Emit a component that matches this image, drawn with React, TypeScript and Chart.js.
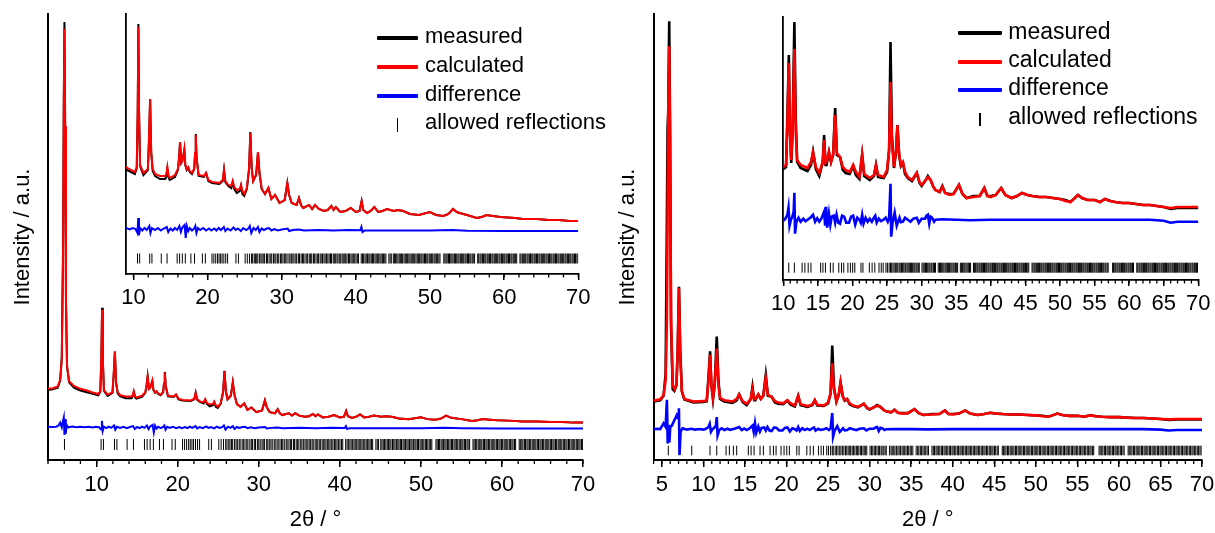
import React, { useEffect, useRef } from 'react';
import { Chart, registerables } from 'chart.js';

Chart.register(...registerables);

const FONT = "'Liberation Sans', Arial, Helvetica, sans-serif";

// ---------------- LEFT SAMPLE ----------------
const leftTheta = [4.0, 4.6, 5.2, 5.5, 5.7, 5.85, 5.95, 6.03, 6.12, 6.22, 6.35, 6.6, 7.2, 8.0, 8.8, 9.4, 10.2, 10.45, 10.58, 10.67, 10.76, 10.9, 11.35, 11.95, 12.1, 12.25, 12.4, 12.6, 12.92, 13.6, 14.3, 14.45, 14.58, 14.75, 14.9, 15.6, 16.0, 16.15, 16.29, 16.45, 16.6, 16.75, 16.87, 17.0, 17.2, 17.4, 17.6, 17.9, 18.2, 18.32, 18.41, 18.52, 18.8, 19.5, 19.8, 20.1, 20.6, 21.6, 22.05, 22.22, 22.4, 22.8, 23.2, 23.39, 23.6, 23.95, 24.35, 24.51, 24.7, 24.95, 25.3, 25.6, 25.77, 25.95, 26.15, 26.55, 26.8, 27.0, 27.3, 27.75, 28.2, 28.6, 29.1, 29.7, 30.4, 30.76, 31.0, 31.35, 32.0, 32.33, 32.6, 32.9, 33.7, 34.1, 34.5, 35.0, 35.7, 36.2, 36.7, 37.0, 37.3, 37.9, 38.6, 39.3, 40.0, 40.5, 40.78, 41.0, 41.5, 42.0, 42.5, 43.0, 43.6, 44.2, 45.1, 45.7, 46.4, 47.3, 48.5, 50.0, 50.8, 51.8, 52.5, 53.1, 53.6, 54.0, 55.0, 56.3, 57.0, 57.6, 58.5, 59.5, 61.5, 62.5, 64.4, 66.0, 67.4, 68.8, 70.0];
const leftCalc = [110, 111, 114, 125, 160, 330, 600, 727, 560, 260, 150, 123, 115, 110, 107, 104, 101, 106, 165, 246, 160, 108, 100, 104, 135, 174, 120, 104, 99, 97, 97, 99, 106, 97, 95, 98, 104, 115, 131, 110, 112, 118, 124, 108, 104, 106, 102, 100, 104, 120, 138, 115, 98, 97, 100, 93, 91, 90, 93, 103, 92, 88, 87, 92, 86, 83, 84, 88, 82, 79, 85, 105, 140, 105, 92, 98, 121, 100, 84, 79, 85, 74, 78, 70, 73, 90, 78, 70, 68, 75, 68, 65, 68, 64, 68, 64, 62, 63, 67, 63, 66, 61, 62, 65, 61, 62, 72, 63, 60, 62, 66, 61, 62, 64, 62, 63, 62, 59, 58, 61, 58, 57, 59, 64, 61, 60, 58, 55, 56, 58, 57, 56, 55, 54, 54, 53, 53, 52, 52];
const leftMeas = [108, 109, 112, 124, 165, 345, 610, 739, 560, 255, 148, 121, 112, 107, 104, 102, 99, 105, 160, 249, 162, 107, 98, 103, 132, 174, 121, 102, 97, 94, 94, 97, 104, 95, 93, 96, 103, 114, 131, 110, 112, 118, 123, 108, 103, 105, 101, 99, 104, 120, 139, 115, 97, 96, 100, 92, 90, 89, 92, 103, 91, 87, 85, 91, 84, 80, 82, 87, 79, 77, 84, 104, 141, 105, 92, 98, 121, 100, 84, 79, 85, 74, 78, 70, 73, 90, 78, 70, 68, 75, 68, 65, 68, 64, 68, 64, 62, 63, 67, 63, 66, 61, 62, 65, 61, 62, 72, 63, 60, 62, 66, 61, 62, 64, 62, 63, 62, 59, 58, 61, 58, 57, 59, 64, 61, 60, 58, 55, 56, 58, 57, 56, 55, 54, 54, 53, 53, 52, 52];
const leftDiffTheta = [4.0, 4.5, 5.0, 5.3, 5.5, 5.7, 5.85, 5.95, 6.03, 6.1, 6.2, 6.3, 6.5, 7.0, 7.5, 8.0, 8.5, 9.0, 9.5, 9.9, 10.3, 10.55, 10.65, 10.75, 10.9, 11.2, 11.5, 11.8, 12.15, 12.3, 12.5, 12.9, 13.3, 13.7, 14.1, 14.5, 14.7, 15.0, 15.3, 15.6, 15.9, 16.2, 16.4, 16.6, 16.9, 17.05, 17.2, 17.4, 17.6, 17.9, 18.2, 18.35, 18.5, 18.7, 19.0, 19.4, 19.8, 20.2, 20.5, 20.9, 21.2, 21.5, 21.8, 22.2, 22.4, 22.7, 23.1, 23.5, 23.8, 24.1, 24.5, 24.8, 25.2, 25.5, 25.7, 25.9, 26.2, 26.5, 26.8, 27.0, 27.3, 27.6, 28.0, 28.3, 28.6, 29.0, 29.5, 30.0, 30.8, 31.0, 31.5, 32.3, 33.0, 35.0, 37.0, 39.0, 40.6, 40.75, 40.9, 41.2, 45.0, 50.0, 53.0, 55.0, 60.0, 70.0];
const leftDiff = [45, 44.5, 45, 47, 52, 44, 55, 61, 31, 58, 33, 48, 44, 45.5, 44, 45, 44, 45, 43.5, 45, 44, 40, 55, 38, 45, 42.5, 45, 43, 47, 40, 45, 43, 45, 42.5, 44.5, 46, 41, 44.5, 42.5, 45, 43, 47, 41, 45.5, 48, 35, 47, 42, 45, 42.5, 44.5, 47, 40, 45, 43, 45, 42.5, 44.5, 42.5, 44.5, 42.5, 45, 43, 46, 42, 44.5, 42.5, 45.5, 43, 44.5, 42, 45, 43, 44.5, 47, 40, 45, 43, 46, 41, 44.5, 43, 44.5, 45, 42.5, 44, 42.5, 43.5, 44.5, 42, 43, 43.5, 42.5, 43, 42.5, 43, 42.8, 46, 41, 42.5, 42.5, 42.5, 43, 42.3, 42, 42];
const leftReflections = [6.03, 10.55, 10.84, 12.2, 12.5, 13.76, 14.54, 15.9, 16.23, 16.6, 17.0, 17.75, 18.24, 19.3, 19.7, 20.6, 20.85, 21.1, 21.35, 21.55, 21.76, 21.96, 22.2, 22.45, 22.7, 23.83, 24.16, 25.07, 25.36, 25.65,
  25.92, 26.08, 26.3, 26.45, 26.63, 26.78, 27.02, 27.2, 27.36, 27.58, 27.7, 27.95, 28.1, 28.3, 28.52, 28.66, 28.9, 29.08, 29.22, 29.45, 29.6, 29.83, 30.0, 30.18, 30.4, 30.55, 30.72, 30.98, 31.12, 31.3, 31.5, 31.66, 31.9, 32.02, 32.25, 32.4, 32.62, 32.8, 32.96, 33.15, 33.38, 33.5, 33.72, 33.9, 34.05, 34.28, 34.4, 34.62, 34.8, 34.95, 35.18, 35.32, 35.5, 35.7, 35.86, 36.05, 36.22, 36.4, 36.58, 36.72, 36.95, 37.1, 37.28, 37.46, 37.6, 37.82, 37.96, 38.15, 38.3, 38.5, 38.64, 38.8, 39.0, 39.15, 39.34, 39.5, 39.66, 39.85, 40.02, 40.2, 40.36, 40.72, 40.9, 41.05, 41.24, 41.4, 41.58, 41.75, 41.9, 42.08, 42.25, 42.4, 42.58, 42.74, 42.9, 43.08, 43.25, 43.4, 43.58, 43.74, 43.9, 44.05, 44.45, 44.62, 44.78, 45.05, 45.2, 45.36, 45.52, 45.68, 45.85, 46.0, 46.17, 46.31, 46.5, 46.66, 46.81, 46.98, 47.15, 47.3, 47.47, 47.61, 47.8, 47.94, 48.11, 48.28, 48.43, 48.6, 48.77, 48.91, 49.08, 49.26, 49.4, 49.57, 49.71, 49.9, 50.04, 50.22, 50.37, 50.55, 50.69, 50.86, 51.03, 51.2, 51.35, 51.86, 52.01, 52.17, 52.31, 52.49, 52.63, 52.8, 52.96, 53.11, 53.29, 53.43, 53.6, 53.77, 53.91, 54.09, 54.23, 54.41, 54.55, 54.73, 54.87, 55.05, 55.19, 55.37, 55.51, 55.69, 55.83, 56.01, 56.43, 56.57, 56.75, 56.89, 57.07, 57.21, 57.39, 57.53, 57.71, 57.85, 58.03, 58.17, 58.35, 58.49, 58.67, 58.81, 58.99, 59.13, 59.31, 59.45, 59.63, 59.77, 59.95, 60.09, 60.27, 60.41, 60.59, 60.73, 60.91, 61.05, 61.23, 61.37, 61.55, 61.69, 62.13, 62.27, 62.45, 62.59, 62.77, 62.91, 63.09, 63.23, 63.41, 63.55, 63.73, 63.87, 64.05, 64.19, 64.37, 64.51, 64.69, 64.83, 65.01, 65.15, 65.33, 65.47, 65.65, 65.79, 65.97, 66.11, 66.29, 66.43, 66.61, 66.75, 66.93, 67.07, 67.25, 67.39, 67.57, 67.71, 67.89, 68.03, 68.21, 68.35, 68.53, 68.67, 68.85, 68.99, 69.17, 69.31, 69.49, 69.63, 69.81, 69.95];
const leftReflLevel = 14.5;

// ---------------- RIGHT SAMPLE ----------------
const rightTheta = [4.0, 4.8, 5.2, 5.45, 5.6, 5.68, 5.76, 5.88, 5.98, 6.1, 6.3, 6.5, 6.75, 6.9, 7.05, 7.2, 7.4, 7.7, 8.8, 10.0, 10.4, 10.6, 10.8, 10.95, 11.15, 11.35, 11.6, 11.8, 12.0, 12.5, 13.5, 14.0, 14.3, 14.7, 15.2, 15.7, 15.9, 16.1, 16.25, 16.6, 16.9, 17.2, 17.5, 17.75, 18.2, 18.6, 19.0, 19.6, 20.1, 20.5, 21.0, 21.4, 21.7, 22.5, 23.1, 23.4, 23.7, 24.5, 25.0, 25.3, 25.5, 25.7, 26.0, 26.3, 26.5, 26.75, 27.0, 27.3, 27.6, 28.0, 28.6, 29.3, 29.7, 30.0, 30.6, 30.9, 31.3, 31.7, 32.0, 32.6, 33.0, 33.4, 34.0, 34.6, 35.4, 35.9, 36.5, 37.5, 38.4, 39.06, 39.5, 40.0, 40.7, 41.5, 42.1, 43.0, 43.8, 44.5, 45.3, 46.0, 47.0, 48.0, 49.0, 50.0, 50.8, 51.5, 52.0, 52.6, 53.2, 54.0, 55.0, 55.8, 56.5, 57.3, 58.0, 59.0, 60.0, 61.0, 62.0, 63.0, 64.0, 65.0, 66.0, 67.0, 68.0, 69.0, 70.0];
const rightCalc = [114, 117, 127, 160, 300, 520, 760, 911, 700, 300, 150, 140, 150, 230, 368, 220, 135, 118, 112, 113, 115, 160, 217, 150, 120, 150, 231, 150, 120, 115, 112, 118, 128, 113, 107, 118, 140, 117, 118, 128, 118, 125, 165, 127, 123, 113, 110, 108, 115, 108, 103, 125, 106, 102, 105, 115, 105, 103, 110, 130, 198, 140, 113, 130, 155, 125, 115, 118, 108, 103, 100, 107, 98, 95, 100, 103, 100, 93, 90, 88, 93, 87, 85, 86, 95, 86, 82, 83, 84, 92, 84, 83, 85, 92, 85, 82, 84, 87, 85, 84, 83, 83, 82, 81, 79, 78, 81, 85, 82, 80, 80, 78, 81, 79, 78, 77, 77, 76, 75, 75, 74, 73, 72, 73, 73, 73, 73];
const rightMeas = [112, 115, 125, 175, 520, 725, 760, 967, 720, 280, 140, 136, 148, 225, 370, 230, 135, 117, 110, 111, 113, 165, 225, 150, 117, 150, 258, 160, 118, 112, 109, 115, 128, 111, 104, 118, 145, 115, 115, 128, 118, 125, 172, 125, 123, 110, 107, 106, 114, 105, 101, 125, 104, 100, 104, 115, 103, 102, 108, 130, 238, 145, 112, 128, 155, 125, 114, 117, 106, 102, 99, 107, 97, 94, 100, 104, 100, 93, 90, 88, 94, 87, 86, 86, 95, 86, 82, 84, 84, 92, 84, 84, 85, 92, 85, 82, 84, 87, 85, 84, 83, 83, 82, 81, 80, 78, 81, 85, 82, 80, 80, 78, 81, 79, 78, 77, 77, 76, 75, 75, 74, 73, 71, 72, 72, 72, 72];
const rightDiffTheta = [4.0, 4.5, 4.8, 5.2, 5.45, 5.6, 5.7, 5.8, 5.9, 6.0, 6.2, 6.5, 6.8, 6.95, 7.05, 7.12, 7.25, 7.5, 8.0, 8.5, 9.0, 9.5, 10.0, 10.3, 10.6, 10.75, 10.9, 11.1, 11.3, 11.5, 11.6, 11.7, 11.9, 12.2, 12.5, 12.9, 13.2, 13.5, 13.9, 14.3, 14.6, 14.9, 15.2, 15.5, 15.9, 16.05, 16.2, 16.35, 16.6, 16.8, 17.0, 17.3, 17.5, 17.7, 17.95, 18.2, 18.5, 18.8, 19.1, 19.5, 19.8, 20.1, 20.4, 20.7, 21.0, 21.2, 21.4, 21.6, 21.9, 22.2, 22.5, 22.8, 23.1, 23.3, 23.5, 23.8, 24.1, 24.5, 24.8, 25.1, 25.3, 25.5, 25.6, 25.8, 26.1, 26.4, 26.8, 27.0, 27.3, 27.6, 28.0, 28.4, 28.8, 29.3, 29.6, 30.0, 30.5, 30.7, 30.9, 31.1, 31.3, 31.5, 31.8, 32.0, 33.0, 35.0, 37.0, 40.0, 45.0, 50.0, 55.0, 60.0, 63.0, 65.0, 66.0, 67.0, 70.0];
const rightDiff = [50, 51, 50, 63, 55, 116, 18, 60, 20, 55, 58, 70, 82, 75, 97, -8, 45, 52, 49, 51, 49, 50.5, 49, 51, 55, 62, 44, 50, 53, 58, 77, 36, 48, 52, 48, 51, 48.5, 50, 52, 55, 48, 51.5, 48, 51, 58, 44, 63, 42, 56, 45, 53, 54, 47, 55, 47, 46, 54, 53, 47, 47, 53, 54, 45, 52, 50, 47, 55, 46, 52, 48, 51, 48, 52, 54, 47, 51, 48.5, 50, 52, 48, 52, 86, 33, 47, 57, 44, 52, 47.5, 48, 52, 50, 48, 51, 52, 47, 51, 51, 54, 55, 46, 53, 52, 48, 50, 50.5, 50, 49.5, 50, 50, 50, 50, 50, 50, 49, 47, 48, 48];
const rightReflections = [5.77, 7.1, 8.59, 10.79, 11.6, 12.72, 13.12, 13.6, 14.0, 15.4, 15.73, 16.09, 16.81, 17.21, 18.02, 18.42, 18.74, 19.34, 19.7, 20.03, 20.34, 21.23, 21.51, 22.44, 22.84, 23.23, 23.84, 24.16, 24.44,
  24.84, 25.05, 25.3, 25.5, 25.62, 25.85, 26.02, 26.2, 26.4, 26.55, 26.75, 26.9, 27.1, 27.25, 27.42, 27.6, 27.72, 27.9, 28.05, 28.22, 28.4, 28.55, 28.7, 28.88, 29.02, 29.2, 29.35, 29.52, 29.66, 30.05, 30.22, 30.38, 30.55, 30.7, 30.88, 31.05, 31.2, 31.38, 31.5, 31.7, 31.86, 32.0, 32.4, 32.58, 32.72, 32.9, 33.05, 33.22, 33.4, 33.55, 33.72, 33.9, 34.05, 34.22, 34.38, 34.55, 34.7, 34.88, 35.02, 35.2, 35.6, 35.78, 35.92, 36.1, 36.25, 36.42, 36.58, 36.75, 36.92, 37.08, 37.5, 37.66, 37.81, 37.99, 38.13, 38.31, 38.45, 38.63, 38.77, 38.95, 39.09, 39.27, 39.41, 39.59, 39.73, 39.91, 40.05, 40.23, 40.37, 40.55, 40.69, 40.87, 41.01, 41.19, 41.33, 41.51, 41.65, 41.83, 41.97, 42.15, 42.29, 42.47, 42.61, 42.79, 42.93, 43.11, 43.25, 43.43, 43.57, 43.75, 43.89, 44.07, 44.21, 44.39, 44.53, 44.71, 44.85, 45.03, 45.17, 45.35, 45.49, 45.96, 46.1, 46.27, 46.41, 46.59, 46.73, 46.91, 47.05, 47.23, 47.37, 47.55, 47.69, 47.87, 48.01, 48.19, 48.33, 48.51, 48.65, 48.83, 48.97, 49.15, 49.29, 49.47, 49.61, 49.79, 49.93, 50.11, 50.25, 50.43, 50.57, 50.75, 50.89, 51.07, 51.21, 51.39, 51.53, 51.71, 51.85, 52.03, 52.17, 52.35, 52.49, 52.67, 52.81, 52.99, 53.13, 53.31, 53.45, 53.63, 53.77, 53.95, 54.09, 54.27, 54.41, 54.59, 54.73, 54.91, 55.05, 55.23, 55.37, 55.55, 55.69, 55.87, 56.01, 56.19, 56.33, 56.51, 56.65, 56.83, 56.97, 57.61, 57.75, 57.93, 58.07, 58.25, 58.39, 58.57, 58.71, 58.89, 59.03, 59.21, 59.35, 59.53, 59.67, 59.85, 59.99, 60.17, 60.31, 60.49, 60.63, 61.11, 61.25, 61.43, 61.57, 61.75, 61.89, 62.07, 62.21, 62.39, 62.53, 62.71, 62.85, 63.03, 63.17, 63.35, 63.49, 63.67, 63.81, 63.99, 64.13, 64.31, 64.45, 64.63, 64.77, 64.95, 65.09, 65.27, 65.41, 65.59, 65.73, 65.91, 66.05, 66.23, 66.37, 66.55, 66.69, 66.87, 67.01, 67.19, 67.33, 67.51, 67.65, 67.83, 67.97, 68.15, 68.29, 68.47, 68.61, 68.79, 68.93, 69.11, 69.25, 69.43, 69.57, 69.75, 69.89];
const rightReflLevel = 2;

// ---------------- AXES ----------------
const leftMainTicks = [10, 20, 30, 40, 50, 60, 70];
const leftInsetTicks = [10, 20, 30, 40, 50, 60, 70];
const rightMainTicks = [5, 10, 15, 20, 25, 30, 35, 40, 45, 50, 55, 60, 65, 70];
const rightInsetTicks = [10, 15, 20, 25, 30, 35, 40, 45, 50, 55, 60, 65, 70];
const legendLabels = ['measured', 'calculated', 'difference', 'allowed reflections'];
const xTitle = '2θ / °';
const yTitle = 'Intensity / a.u.';

const pts = (xs: number[], ys: number[]) => xs.map((x, i) => ({ x, y: ys[i] }));

type Cfg = {
  xMin: number; xMax: number; majors: number[]; minorStep: number; majorLen: number; minorLen: number;
  yMin: number; yMax: number; y2?: [number, number];
  showTitles: boolean; yWidth: number; xHeight: number; padTop: number; padRight: number;
  theta: number[]; calc: number[]; meas: number[]; diffTheta: number[]; diff: number[];
  refl: number[]; reflLevel: number; reflRadius: number; lineWidth: number; axisWidth: number;
};

function minorTickPlugin(step: number, len: number) {
  return {
    id: 'minorTicks',
    afterDraw(chart: any) {
      const s = chart.scales.x;
      const ctx = chart.ctx;
      ctx.save();
      ctx.strokeStyle = '#000';
      ctx.lineWidth = 1.3;
      const n = Math.round((s.max - s.min) / step);
      const start = Math.ceil(s.min / step - 1e-9) * step;
      for (let k = 0; k <= n + 1; k++) {
        const v = start + k * step;
        if (v > s.max + 1e-9) break;
        const px = s.getPixelForValue(v);
        ctx.beginPath();
        ctx.moveTo(px, s.top);
        ctx.lineTo(px, s.top + len);
        ctx.stroke();
      }
      ctx.restore();
    },
  };
}

function buildConfig(c: Cfg): any {
  const diffAxis = c.y2 ? 'y2' : 'y';
  const scales: any = {
    x: {
      type: 'linear', min: c.xMin, max: c.xMax,
      afterBuildTicks: (s: any) => { s.ticks = c.majors.map((v) => ({ value: v })); },
      afterFit: (s: any) => { s.height = c.xHeight; s.paddingLeft = 0; s.paddingRight = 0; },
      ticks: { autoSkip: false, maxRotation: 0, minRotation: 0, padding: 5, color: '#000', font: { family: FONT, size: 22 } },
      grid: { drawOnChartArea: false, drawTicks: true, tickLength: c.majorLen, tickWidth: 1.5, tickColor: '#000', color: '#000', lineWidth: 1.5 },
      border: { display: true, color: '#000', width: c.axisWidth },
      title: c.showTitles
        ? { display: true, text: xTitle, color: '#000', font: { family: FONT, size: 22 }, padding: { top: 0, bottom: 0 } }
        : { display: false },
    },
    y: {
      type: 'linear', min: c.yMin, max: c.yMax,
      afterFit: (s: any) => { s.width = c.yWidth; s.paddingTop = 0; s.paddingBottom = 0; },
      ticks: { display: false },
      grid: { display: false },
      border: { display: true, color: '#000', width: c.axisWidth },
      title: c.showTitles
        ? { display: true, text: yTitle, color: '#000', font: { family: FONT, size: 22 }, padding: { top: 10, bottom: 0 } }
        : { display: false },
    },
  };
  if (c.y2) {
    scales.y2 = { type: 'linear', display: false, min: c.y2[0], max: c.y2[1] };
  }
  return {
    type: 'line',
    data: {
      datasets: [
        { label: legendLabels[1], data: pts(c.theta, c.calc), borderColor: '#ff0000', borderWidth: c.lineWidth, pointRadius: 0, tension: 0, order: 0, yAxisID: 'y' },
        { label: legendLabels[0], data: pts(c.theta, c.meas), borderColor: '#000000', borderWidth: c.lineWidth, pointRadius: 0, tension: 0, order: 1, yAxisID: 'y' },
        { label: legendLabels[2], data: pts(c.diffTheta, c.diff), borderColor: '#0000ff', borderWidth: c.lineWidth, pointRadius: 0, tension: 0, order: 2, yAxisID: diffAxis },
        {
          label: legendLabels[3], data: c.refl.map((x) => ({ x, y: c.reflLevel })), showLine: false,
          pointStyle: 'line', pointRotation: 90, pointRadius: c.reflRadius, pointHoverRadius: c.reflRadius,
          pointBorderWidth: 1, pointBorderColor: '#000', borderColor: '#000', backgroundColor: '#000', order: 3, yAxisID: diffAxis,
        },
      ],
    },
    options: {
      animation: false, responsive: false, events: [],
      layout: { padding: { left: 0, top: c.padTop, right: c.padRight, bottom: 0 } },
      plugins: { legend: { display: false }, tooltip: { enabled: false }, title: { display: false } },
      scales,
    },
    plugins: [minorTickPlugin(c.minorStep, c.minorLen)],
  };
}

function ChartBox({ left, top, width, height, cfg }: { left: number; top: number; width: number; height: number; cfg: Cfg }) {
  const ref = useRef<HTMLCanvasElement | null>(null);
  useEffect(() => {
    if (!ref.current) return;
    const chart = new Chart(ref.current, buildConfig(cfg));
    return () => chart.destroy();
  }, []);
  return (
    <canvas ref={ref} width={width} height={height}
      style={{ position: 'absolute', left, top, width, height }} />
  );
}

function Legend({ lineX, lineW, textX, rows, fontSize, tickTop, tickH }: { lineX: number; lineW: number; textX: number; rows: number[]; fontSize: number; tickTop: number; tickH: number }) {
  const colors = ['#000000', '#ff0000', '#0000ff'];
  return (
    <>
      {colors.map((col, i) => (
        <div key={'l' + i} style={{ position: 'absolute', left: lineX, top: rows[i] - 2, width: lineW, height: 4, background: col, borderRadius: 1 }} />
      ))}
      <div style={{ position: 'absolute', left: lineX + lineW / 2 - 0.75, top: tickTop, width: 1.5, height: tickH, background: '#000' }} />
      {legendLabels.map((t, i) => (
        <div key={'t' + i} style={{ position: 'absolute', left: textX, top: rows[i] - fontSize * 0.587, fontFamily: FONT, fontSize, lineHeight: fontSize + 'px', color: '#000', whiteSpace: 'nowrap' }}>{t}</div>
      ))}
    </>
  );
}

const leftMainCfg: Cfg = {
  xMin: 4, xMax: 70, majors: leftMainTicks, minorStep: 2, majorLen: 7, minorLen: 4,
  yMin: -12.1, yMax: 752.8, showTitles: true, yWidth: 48, xHeight: 73, padTop: 14, padRight: 17,
  theta: leftTheta, calc: leftCalc, meas: leftMeas, diffTheta: leftDiffTheta, diff: leftDiff,
  refl: leftReflections, reflLevel: leftReflLevel, reflRadius: 5.5, lineWidth: 2, axisWidth: 2,
};
const leftInsetCfg: Cfg = {
  xMin: 9, xMax: 70, majors: leftInsetTicks, minorStep: 2, majorLen: 6, minorLen: 3.5,
  yMin: -1, yMax: 259, showTitles: false, yWidth: 26, xHeight: 46, padTop: 14, padRight: 21.7,
  theta: leftTheta, calc: leftCalc, meas: leftMeas, diffTheta: leftDiffTheta, diff: leftDiff,
  refl: leftReflections, reflLevel: leftReflLevel, reflRadius: 5, lineWidth: 2, axisWidth: 1.8,
};
const rightMainCfg: Cfg = {
  xMin: 4, xMax: 70, majors: rightMainTicks, minorStep: 1, majorLen: 7, minorLen: 4,
  yMin: -19.3, yMax: 983.3, showTitles: true, yWidth: 48.6, xHeight: 73, padTop: 14, padRight: 13,
  theta: rightTheta, calc: rightCalc, meas: rightMeas, diffTheta: rightDiffTheta, diff: rightDiff,
  refl: rightReflections, reflLevel: rightReflLevel, reflRadius: 4.8, lineWidth: 2.6, axisWidth: 2,
};
const rightInsetCfg: Cfg = {
  xMin: 10, xMax: 70, majors: rightInsetTicks, minorStep: 1, majorLen: 6, minorLen: 3.5,
  yMin: 0, yMax: 263.3, y2: [-10.3, 253], showTitles: false, yWidth: 23.3, xHeight: 50, padTop: 16.7, padRight: 16.7,
  theta: rightTheta, calc: rightCalc, meas: rightMeas, diffTheta: rightDiffTheta, diff: rightDiff,
  refl: rightReflections, reflLevel: rightReflLevel, reflRadius: 5, lineWidth: 2.6, axisWidth: 1.8,
};

export default function App() {
  return (
    <div style={{ position: 'absolute', left: 0, top: 0, width: 1215, height: 533, background: '#fff', overflow: 'hidden' }}>
      <ChartBox left={0} top={0} width={600} height={533} cfg={leftMainCfg} />
      <ChartBox left={605} top={0} width={610} height={533} cfg={rightMainCfg} />
      <ChartBox left={100} top={0} width={500} height={320} cfg={leftInsetCfg} />
      <ChartBox left={760} top={0} width={455} height={330} cfg={rightInsetCfg} />
      <Legend lineX={376.7} lineW={41.6} textX={425} rows={[38.3, 66.7, 95.7, 124]} fontSize={22} tickTop={118} tickH={14} />
      <Legend lineX={958.3} lineW={43.4} textX={1008.3} rows={[33.3, 61.7, 90, 118.3]} fontSize={23} tickTop={112.5} tickH={13.5} />
    </div>
  );
}
